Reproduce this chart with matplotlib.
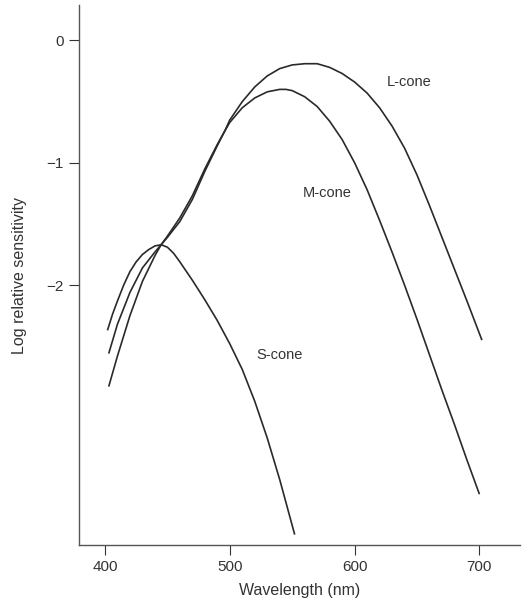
import matplotlib
matplotlib.use("Agg")
import matplotlib.pyplot as plt

plt.rcParams['font.family'] = ['Liberation Sans', 'DejaVu Sans']

# log relative sensitivity
s_wl = [402, 406, 410, 415, 420, 425, 430, 435, 440, 445, 450, 455, 460,
        470, 480, 490, 500, 510, 520, 530, 540, 552]
s_val = [-2.37, -2.24, -2.13, -2.00, -1.89, -1.81, -1.75, -1.71, -1.68,
         -1.67, -1.69, -1.74, -1.81, -1.96, -2.12, -2.29, -2.48, -2.69,
         -2.95, -3.25, -3.59, -4.04]

m_wl = [403, 410, 420, 430, 440, 445, 450, 460, 470, 480, 490, 496, 500,
        510, 520, 530, 540, 545, 550, 560, 570, 580, 590, 600, 610, 620,
        630, 640, 650, 660, 670, 680, 690, 700]
m_val = [-2.56, -2.32, -2.06, -1.86, -1.73, -1.67, -1.60, -1.45, -1.27,
         -1.05, -0.85, -0.74, -0.67, -0.55, -0.47, -0.42, -0.40, -0.40,
         -0.41, -0.46, -0.54, -0.66, -0.81, -1.00, -1.22, -1.47, -1.73,
         -2.00, -2.28, -2.57, -2.86, -3.14, -3.43, -3.71]

l_wl = [403, 410, 420, 430, 440, 445, 450, 460, 470, 480, 490, 496, 500,
        510, 520, 530, 540, 550, 560, 566, 570, 580, 590, 600, 610, 620,
        630, 640, 650, 660, 670, 680, 690, 702]
l_val = [-2.83, -2.58, -2.25, -1.97, -1.76, -1.67, -1.61, -1.48, -1.30,
         -1.07, -0.86, -0.74, -0.65, -0.50, -0.38, -0.29, -0.23, -0.20,
         -0.19, -0.19, -0.19, -0.22, -0.27, -0.34, -0.43, -0.55, -0.70,
         -0.88, -1.10, -1.35, -1.61, -1.87, -2.13, -2.45]

labels = {'L-cone': (644, -0.34), 'M-cone': (578, -1.25), 'S-cone': (540, -2.57)}

fig = plt.figure(figsize=(5.23, 6.03), dpi=100)
ax = fig.add_axes([79 / 523, 58 / 603, 441 / 523, 540 / 603])

line_kw = dict(color='#2a2a2a', lw=1.2, solid_capstyle='butt', solid_joinstyle='round')
ax.plot(s_wl, s_val, **line_kw)
ax.plot(m_wl, m_val, **line_kw)
ax.plot(l_wl, l_val, **line_kw)

for name, (x, y) in labels.items():
    ax.text(x, y, name, fontsize=10.5, color='#333333', ha='center', va='center')

ax.set_xlim(379.2, 732.5)
ax.set_ylim(-4.125, 0.29)
ax.set_xticks([400, 500, 600, 700])
ax.set_yticks([0, -1, -2])
ax.set_yticklabels(['0', '\u22121', '\u22122'])
ax.tick_params(labelsize=11, colors='#333333', length=7, width=0.8, pad=4)
for side in ['top', 'right']:
    ax.spines[side].set_visible(False)
for side in ['left', 'bottom']:
    ax.spines[side].set_color('#555555')
    ax.spines[side].set_linewidth(1.0)

ax.set_xlabel('Wavelength (nm)', fontsize=11.5, color='#333333', labelpad=6)
ax.set_ylabel('Log relative sensitivity', fontsize=11.5, color='#333333', labelpad=14)

fig.savefig('out.png', dpi=100, facecolor='white')
